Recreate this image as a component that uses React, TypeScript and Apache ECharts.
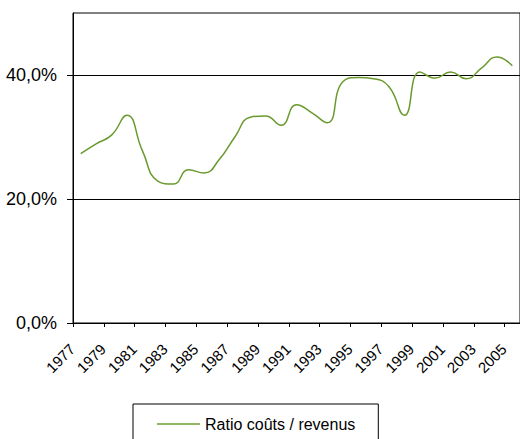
import React, { useEffect, useRef } from "react";
import * as echarts from "echarts";

// Years on the category axis
const years: string[] = [
  "1977", "1978", "1979", "1980", "1981", "1982", "1983", "1984", "1985", "1986",
  "1987", "1988", "1989", "1990", "1991", "1992", "1993", "1994", "1995", "1996",
  "1997", "1998", "1999", "2000", "2001", "2002", "2003", "2004", "2005",
];

// Cost / revenue ratio, in percent
const ratio: number[] = [
  27.3, 28.9, 30.3, 33.5, 27.8, 22.9, 22.4, 24.7, 24.2, 26.4,
  30.0, 33.2, 33.4, 31.9, 35.2, 33.9, 32.3, 38.9, 39.6, 39.4,
  38.1, 33.5, 40.5, 39.5, 40.5, 39.4, 41.1, 42.9, 41.5,
];

// Value-axis ticks that carry a label
const yTicks: number[] = [0, 20, 40];

const seriesName = "Ratio coûts / revenus";
const lineColor = "#6a9a2e";
const legendLineColor = "#8fb660";
const font = "Liberation Sans, Arial, sans-serif";

const fmtPct = (v: number) => v.toFixed(1).replace(".", ",") + "%";

export default function App() {
  const ref = useRef<HTMLDivElement>(null);

  useEffect(() => {
    document.body.style.margin = "0";
    if (!ref.current) return;
    const chart = echarts.init(ref.current, undefined, { renderer: "svg" });
    const catWidth = 15.64;
    chart.setOption({
      animation: false,
      backgroundColor: "#ffffff",
      textStyle: { fontFamily: font },
      grid: {
        left: 73,
        top: 13,
        height: 310,
        width: catWidth * years.length,
        show: true,
        borderColor: "#000",
        borderWidth: 1,
        containLabel: false,
      },
      xAxis: {
        type: "category",
        data: years,
        boundaryGap: true,
        axisLine: { lineStyle: { color: "#000", width: 1 } },
        axisTick: {
          show: true,
          interval: 1,
          length: 4,
          alignWithLabel: false,
          lineStyle: { color: "#000" },
        },
        axisLabel: {
          interval: 1,
          rotate: 45,
          margin: 15,
          padding: [0, 12, 0, 0],
          fontSize: 15,
          color: "#000",
          fontFamily: font,
        },
        splitLine: { show: false },
      },
      yAxis: {
        type: "value",
        min: 0,
        max: 50,
        interval: 20,
        axisLine: { show: true, lineStyle: { color: "#000", width: 1 } },
        axisTick: {
          show: true,
          length: 6,
          customValues: yTicks,
          lineStyle: { color: "#000" },
        },
        axisLabel: {
          customValues: yTicks,
          margin: 16,
          fontSize: 18,
          color: "#000",
          fontFamily: font,
          formatter: (v: number) => fmtPct(v),
        },
        splitLine: { show: true, lineStyle: { color: "#000", width: 1 } },
      },
      legend: {
        show: true,
        data: [{ name: seriesName, icon: "rect" }],
        left: 133,
        top: 404,
        orient: "horizontal",
        backgroundColor: "#fff",
        borderColor: "#000",
        borderWidth: 1,
        padding: [11, 23, 24, 24],
        itemWidth: 43,
        itemHeight: 2,
        itemStyle: { color: legendLineColor, borderWidth: 0 },
        textStyle: { fontSize: 16, color: "#000", fontFamily: font, lineHeight: 18 },
      },
      series: [
        {
          name: seriesName,
          type: "line",
          data: ratio,
          smooth: 0.5,
          symbol: "none",
          showSymbol: false,
          lineStyle: { color: lineColor, width: 1.5 },
          itemStyle: { color: lineColor },
        },
      ],
    });
    return () => chart.dispose();
  }, []);

  return <div ref={ref} style={{ width: 520, height: 439 }} />;
}
